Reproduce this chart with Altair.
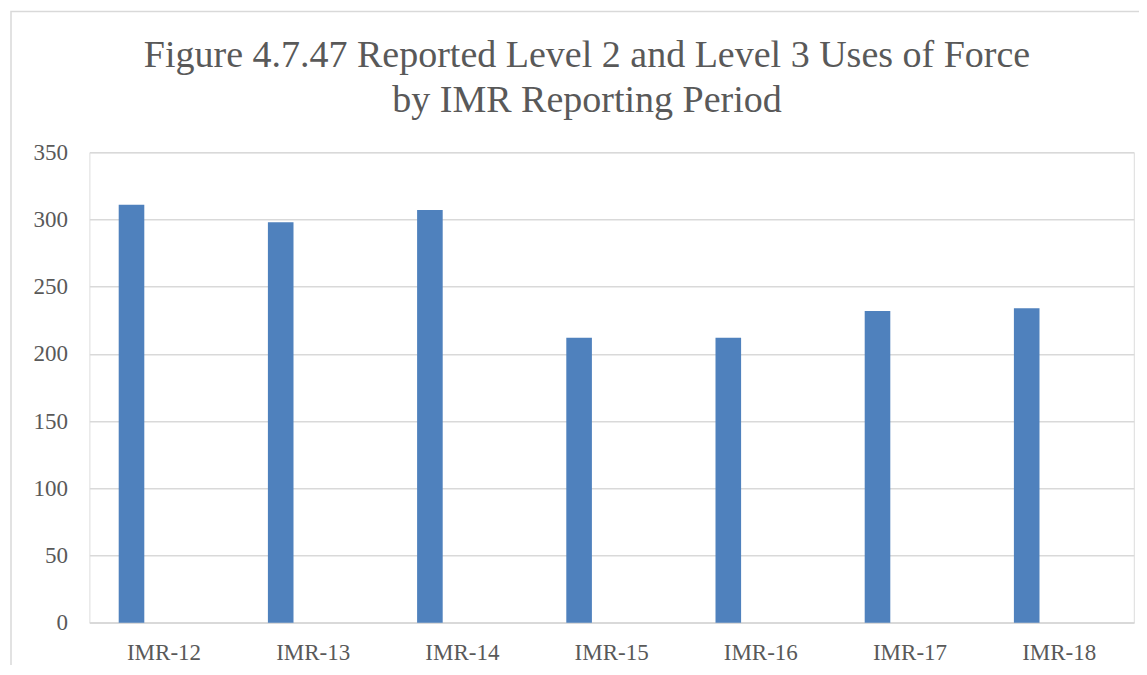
import altair as alt
import pandas as pd

periods = ["IMR-12", "IMR-13", "IMR-14", "IMR-15", "IMR-16", "IMR-17", "IMR-18"]
values = [311, 298, 307, 212, 212, 232, 234]
y_ticks = [0, 50, 100, 150, 200, 250, 300, 350]
title_lines = ["Figure 4.7.47 Reported Level 2 and Level 3 Uses of Force", "by IMR Reporting Period"]

df = pd.DataFrame({"period": periods, "value": values})
frame_df = pd.DataFrame({"a": [0]})

GRID = "#d9d9d9"
TEXT = "#595959"
FONT = "Liberation Serif"

W = 1044.4
H = 470.4

bars = alt.Chart(df).mark_bar(size=25.6, xOffset=-32.5, color="#4f81bd").encode(
    x=alt.X(
        "period:N",
        sort=periods,
        scale=alt.Scale(paddingInner=0, paddingOuter=0),
        axis=alt.Axis(
            title=None,
            labelAngle=0,
            labelFont=FONT,
            labelFontSize=23,
            labelColor=TEXT,
            labelPadding=19,
            ticks=False,
            domain=True,
            domainColor=GRID,
            domainWidth=1.5,
            grid=False,
        ),
    ),
    y=alt.Y(
        "value:Q",
        scale=alt.Scale(domain=[0, 350], nice=False),
        axis=alt.Axis(
            title=None,
            values=y_ticks,
            labelFont=FONT,
            labelFontSize=23,
            labelColor=TEXT,
            labelPadding=22,
            ticks=False,
            domain=False,
            grid=True,
            gridColor=GRID,
            gridWidth=1.4,
        ),
    ),
)

frame = alt.Chart(frame_df).mark_rect(filled=False, stroke=GRID, strokeWidth=1.5).encode(
    x=alt.value(-78.4), x2=alt.value(1200), y=alt.value(-140.8), y2=alt.value(800)
)

title1 = alt.Chart(frame_df).mark_text(
    text=title_lines[0], font=FONT, fontSize=38, color=TEXT, align="center", baseline="alphabetic"
).encode(x=alt.value(497.6), y=alt.value(-85.6))

title2 = alt.Chart(frame_df).mark_text(
    text=title_lines[1], font=FONT, fontSize=38, color=TEXT, align="center", baseline="alphabetic"
).encode(x=alt.value(497.6), y=alt.value(-40.6))

chart = (
    alt.layer(frame, bars, title1, title2)
    .properties(
        width=W,
        height=H,
        autosize="none",
        padding={"left": 81.4, "top": 144.3, "right": 5.2, "bottom": 42.3},
    )
    .configure_view(stroke=None)
    .configure(background="white")
)

chart.save("out.html", embed_options={"renderer": "svg", "actions": False})
